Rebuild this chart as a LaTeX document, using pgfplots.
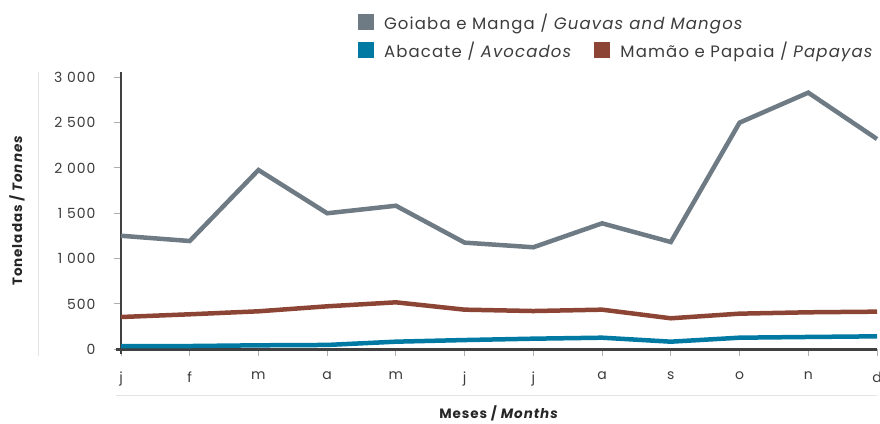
\documentclass[border=0pt]{standalone}
\usepackage{fontspec}
\setmainfont{Poppins}[LetterSpace=7]
\usepackage{pgfplots}
\pgfplotsset{compat=1.18}

\definecolor{cgray}{RGB}{110,123,132}
\definecolor{cblue}{RGB}{0,121,163}
\definecolor{cbrown}{RGB}{140,69,53}
\definecolor{axisc}{RGB}{64,64,64}
\definecolor{tickc}{RGB}{175,175,175}
\definecolor{decor}{RGB}{228,228,228}
\definecolor{txtc}{RGB}{60,60,60}

\pgfplotsset{
  sqlegend/.style={
    legend image code/.code={\fill[##1,draw=none] (0pt,-8pt) rectangle (16pt,8pt);},
    legend style={draw=none, fill=none, inner sep=0pt, outer sep=0pt,
      font=\fontsize{16.5}{19}\selectfont, text=txtc,
      /tikz/every odd column/.append style={column sep=8pt},
      /tikz/every even column/.append style={column sep=20pt}},
    legend cell align=left,
  }
}

\begin{document}
\begin{tikzpicture}
\useasboundingbox (0,0) rectangle (880pt,423pt);
\draw[decor, line width=1pt] (38.5pt,351pt) -- (38.5pt,67pt);
\draw[decor, line width=1pt] (116pt,27.3pt) -- (877pt,27.3pt);

\begin{axis}[
  at={(121pt,73.7pt)}, anchor=south west,
  scale only axis, width=756pt, height=277.6pt,
  xmin=0, xmax=11, ymin=0, ymax=3061,
  axis lines*=left,
  axis line style={axisc, line width=2.5pt, shorten <=-5pt},
  tick align=outside, major tick length=7pt,
  tick style={tickc, line width=1pt},
  xtick={0,...,11}, xticklabels={j,f,m,a,m,j,j,a,s,o,n,d},
  ytick={0,500,...,3000}, yticklabels={0,500,1 000,1 500,2 000,2 500,3 000},
  tick label style={font=\fontsize{14}{16}\selectfont, text=txtc},
  xticklabel style={yshift=-12pt},
  yticklabel style={xshift=-15pt},
  xlabel={\textbf{Meses / \textit{Months}}},
  ylabel={\textbf{Toneladas / \textit{Tonnes}}},
  label style={font=\fontsize{13.5}{16}\selectfont, text=black!85},
  x label style={at={(axis description cs:0.5,0)}, anchor=center, yshift=-64pt},
  y label style={at={(axis description cs:0,0.5)}, anchor=center, yshift=104pt},
  sqlegend,
  legend columns=2,
  legend style={at={(axis description cs:0.3135,1.078)}, anchor=west},
  clip=false,
]
\addplot[cgray, line width=4.5pt, forget plot] coordinates {
 (0,1252) (1,1194) (2,1977) (3,1500) (4,1583) (5,1176) (6,1125) (7,1389) (8,1183) (9,2499) (10,2830) (11,2319)};
\addplot[cblue, line width=4.5pt] coordinates {
 (0,36) (1,36) (2,44) (3,48) (4,84) (5,102) (6,117) (7,128) (8,84) (9,128) (10,136) (11,143)};
\addlegendentry{Abacate / \textit{Avocados}}
\addplot[cbrown, line width=4.5pt] coordinates {
 (0,356) (1,386) (2,419) (3,474) (4,518) (5,437) (6,422) (7,437) (8,342) (9,393) (10,408) (11,415)};
\addlegendentry{Mamão e Papaia / \textit{Papayas}}
\end{axis}

\begin{axis}[
  at={(121pt,73.7pt)}, anchor=south west,
  scale only axis, width=756pt, height=277.6pt,
  xmin=0, xmax=1, ymin=0, ymax=1, hide axis,
  sqlegend,
  legend style={at={(axis description cs:0.3135,1.179)}, anchor=west},
]
\addlegendimage{cgray}
\addlegendentry{Goiaba e Manga / \textit{Guavas and Mangos}}
\end{axis}
\end{tikzpicture}
\end{document}
